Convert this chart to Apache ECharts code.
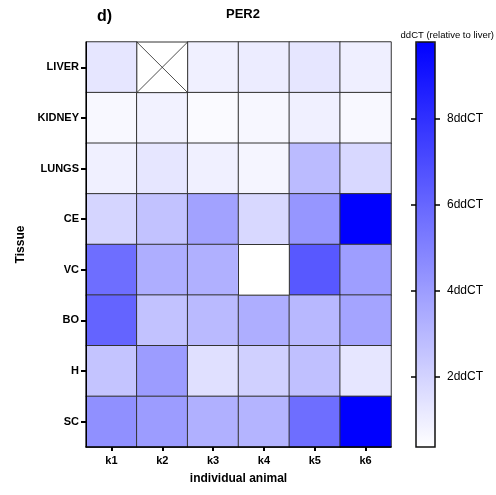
<!DOCTYPE html>
<html>
<head>
<meta charset="utf-8">
<script src="https://cdn.jsdelivr.net/npm/echarts@6/dist/echarts.min.js"></script>
<style>
  html, body { margin: 0; padding: 0; background: #fff; }
  #chart { width: 496px; height: 495px; }
</style>
</head>
<body>
<div id="chart"></div>
<script>
// PER2 heat map, ddCT relative to liver
var animals = ['k1', 'k2', 'k3', 'k4', 'k5', 'k6'];
var tissues = ['LIVER', 'KIDNEY', 'LUNGS', 'CE', 'VC', 'BO', 'H', 'SC'];

// one row per tissue, one value per animal (null = no value)
var rowLiver  = [1.28, null, 0.91, 1.05, 1.28, 0.94];
var rowKidney = [0.61, 0.83, 0.54, 0.65, 0.91, 0.61];
var rowLungs  = [0.91, 1.28, 0.91, 0.72, 2.87, 1.80];
var rowCE     = [1.91, 2.61, 3.80, 1.80, 4.24, 9.80];
var rowVC     = [5.72, 3.35, 3.28, null, 6.54, 3.94];
var rowBO     = [6.09, 2.61, 2.91, 3.35, 2.98, 3.72];
var rowH      = [2.53, 4.02, 1.50, 2.09, 2.68, 1.28];
var rowSC     = [4.46, 4.02, 3.28, 3.13, 5.72, 9.80];
var rows = [rowLiver, rowKidney, rowLungs, rowCE, rowVC, rowBO, rowH, rowSC];

// missing cells: [animal, tissue, crossed]
var missing = [[1, 0, 1], [3, 4, 0]];

var scaleMin = 0.35;
var scaleMax = 9.8;
var colorTicks = [2, 4, 6, 8];

var cells = [];
rows.forEach(function (r, yi) {
  r.forEach(function (v, xi) {
    if (v !== null) cells.push([xi, yi, v]);
  });
});

var boldFont = '"Liberation Sans", Arial, sans-serif';

(function () {
  var myChart = echarts.init(document.getElementById('chart'));
  var option = {
    animation: false,
    title: [
      {
        text: 'PER2',
        left: 238, top: 3, textAlign: 'center',
        textStyle: { fontFamily: boldFont, fontWeight: 'bold', fontSize: 13, color: '#000' }
      },
      {
        text: 'd)',
        left: 92, top: 4,
        textStyle: { fontFamily: boldFont, fontWeight: 'bold', fontSize: 16, color: '#000' }
      },
      {
        text: 'ddCT (relative to liver)',
        left: 489, top: 25, textAlign: 'right',
        textStyle: { fontFamily: boldFont, fontWeight: 'normal', fontSize: 9.5, color: '#000' }
      }
    ],
    grid: [
      { left: 86, top: 42, width: 305, height: 405 },
      { left: 416, top: 42, width: 19, height: 405, show: true, z: 10,
        backgroundColor: 'transparent', borderColor: '#111', borderWidth: 1.5 }
    ],
    visualMap: {
      type: 'continuous',
      seriesIndex: 0,
      min: scaleMin,
      max: scaleMax,
      calculable: false,
      hoverLink: false,
      orient: 'vertical',
      left: 416, top: 42,
      itemWidth: 19, itemHeight: 405,
      padding: 0,
      text: null,
      z: 2,
      inRange: { color: ['#ffffff', '#0000ff'] }
    },
    xAxis: [
      {
        type: 'category', gridIndex: 0, data: animals, z: 10,
        name: 'individual animal', nameLocation: 'middle', nameGap: 26,
        nameTextStyle: { fontFamily: boldFont, fontWeight: 'bold', fontSize: 12, color: '#000' },
        axisLine: { show: true, lineStyle: { color: '#000', width: 1.5 } },
        axisTick: { show: true, alignWithLabel: true, length: 4, lineStyle: { color: '#000', width: 2 } },
        axisLabel: { fontFamily: boldFont, fontWeight: 'bold', fontSize: 11, color: '#000', margin: 8 },
        splitLine: { show: false }
      },
      {
        type: 'category', gridIndex: 1, data: [''], show: false
      }
    ],
    yAxis: [
      {
        type: 'category', gridIndex: 0, data: tissues, inverse: true, z: 10,
        name: 'Tissue', nameLocation: 'middle', nameGap: 57, nameRotate: 90,
        nameTextStyle: { fontFamily: boldFont, fontWeight: 'bold', fontSize: 12, color: '#000' },
        axisLine: { show: true, lineStyle: { color: '#000', width: 1 } },
        axisTick: { show: true, alignWithLabel: true, length: 5, lineStyle: { color: '#000', width: 2 } },
        axisLabel: { fontFamily: boldFont, fontWeight: 'bold', fontSize: 11, color: '#000', margin: 7 },
        splitLine: { show: false }
      },
      {
        type: 'value', gridIndex: 1, position: 'left', min: scaleMin, max: scaleMax, z: 10,
        axisLine: { show: false },
        axisTick: { show: true, length: 5, customValues: colorTicks, lineStyle: { color: '#000', width: 1.5 } },
        axisLabel: { show: false },
        splitLine: { show: false }
      },
      {
        type: 'value', gridIndex: 1, position: 'right', min: scaleMin, max: scaleMax, z: 10,
        axisLine: { show: false },
        axisTick: { show: true, length: 5, customValues: colorTicks, lineStyle: { color: '#000', width: 1.5 } },
        axisLabel: {
          customValues: colorTicks, formatter: '{value}ddCT', margin: 12,
          fontFamily: boldFont, fontSize: 12, color: '#000'
        },
        splitLine: { show: false }
      }
    ],
    series: [
      {
        type: 'heatmap',
        xAxisIndex: 0, yAxisIndex: 0,
        data: cells,
        itemStyle: { borderColor: '#333', borderWidth: 1 },
        emphasis: { disabled: true }
      },
      {
        type: 'custom',
        xAxisIndex: 0, yAxisIndex: 0,
        data: missing,
        renderItem: function (params, api) {
          var c = api.coord([api.value(0), api.value(1)]);
          var s = api.size([1, 1]);
          var x0 = c[0] - s[0] / 2, y0 = c[1] - s[1] / 2;
          var kids = [{
            type: 'rect',
            shape: { x: x0, y: y0, width: s[0], height: s[1] },
            style: { fill: '#fff', stroke: '#333', lineWidth: 1 }
          }];
          if (api.value(2)) {
            kids.push({ type: 'line', shape: { x1: x0, y1: y0, x2: x0 + s[0], y2: y0 + s[1] },
              style: { stroke: '#222', lineWidth: 0.8 } });
            kids.push({ type: 'line', shape: { x1: x0 + s[0], y1: y0, x2: x0, y2: y0 + s[1] },
              style: { stroke: '#222', lineWidth: 0.8 } });
          }
          return { type: 'group', children: kids };
        }
      }
    ]
  };
  myChart.setOption(option);
})();
</script>
</body>
</html>
